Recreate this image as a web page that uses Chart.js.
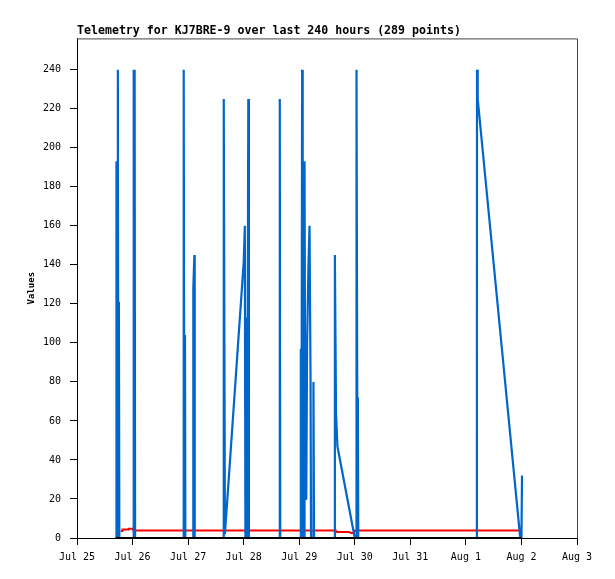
<!DOCTYPE html>
<html>
<head>
<meta charset="utf-8">
<script src="https://cdn.jsdelivr.net/npm/chart.js@4/dist/chart.umd.min.js"></script>
<style>
  body { margin: 0; background: #fff; }
  #wrap { width: 615px; height: 579px; }
</style>
</head>
<body>
<div id="wrap"><canvas id="telemetryChart" width="615" height="579"></canvas></div>
<script>
// hours since Jul 25 00:00
const dayLabels = ['Jul 25', 'Jul 26', 'Jul 27', 'Jul 28', 'Jul 29', 'Jul 30', 'Jul 31', 'Aug 1', 'Aug 2', 'Aug 3'];
const yTicks = [0, 20, 40, 60, 80, 100, 120, 140, 160, 180, 200, 220, 240];

const blueHours = [
  17.0, 17.05, 17.3, 17.65, 17.9, 18.1, 18.3,
  24.45, 24.5, 24.7, 24.9, 25.1,
  46.05, 46.1, 46.4, 46.65, 46.8,
  50.15, 50.25, 50.7, 50.85,
  63.35, 63.4, 63.9, 72.0, 72.5, 72.75, 73.25, 73.5, 74.0, 74.25,
  87.55, 87.6, 87.8,
  96.6, 96.7, 96.95, 97.25, 97.5, 98.2, 98.3, 98.65, 98.85, 99.05, 99.4, 100.0, 100.45, 100.9, 101.1,
  102.0, 102.15, 102.4,
  111.35, 111.4, 111.9, 112.5, 120.0, 120.6, 120.75, 121.2, 121.35, 121.5,
  172.75, 172.8, 173.1, 191.4, 192.0, 192.25
];
const blueValues = [
  0, 193, 0, 240, 0, 121, 0,
  0, 240, 0, 240, 0,
  0, 240, 0, 104, 0,
  0, 128, 145, 0,
  0, 225, 2, 141, 160, 0, 113, 0, 225, 0,
  0, 225, 0,
  0, 97, 0, 240, 0, 0, 193, 20, 60, 20, 100, 140, 160, 80, 0,
  0, 80, 0,
  0, 145, 64, 47, 0, 0, 240, 0, 72, 0,
  0, 240, 225, 1, 0, 32
];

const redHours = [18.9, 19.55, 19.65, 22.1, 22.35, 24.05, 24.3, 111.8, 112.05, 117.45, 118.3, 119.6, 120.05, 191.6];
const redValues = [3.6, 3.6, 4.3, 4.3, 4.8, 4.8, 3.8, 3.8, 3.1, 3.1, 2.6, 2.6, 3.8, 3.8];

const blackHours = [16.7, 192.1];
const blackValues = [0, 0];

function toPoints(hours, values) {
  return hours.map((h, i) => ({ x: h, y: values[i] }));
}

// top and right edges of the plot box
const boxEdges = {
  id: 'boxEdges',
  afterDraw(chart) {
    const { ctx, chartArea: a } = chart;
    ctx.save();
    ctx.strokeStyle = '#444';
    ctx.lineWidth = 1;
    ctx.beginPath();
    ctx.moveTo(a.left, a.top + 0.5);
    ctx.lineTo(a.right + 0.5, a.top + 0.5);
    ctx.lineTo(a.right + 0.5, a.bottom);
    ctx.stroke();
    ctx.restore();
  }
};

const tickFont = { family: '"DejaVu Sans Mono", monospace', size: 10 };

new Chart(document.getElementById('telemetryChart'), {
  type: 'line',
  data: {
    datasets: [
      {
        label: 'Black',
        data: toPoints(blackHours, blackValues),
        borderColor: '#000',
        borderWidth: 2,
        order: 0
      },
      {
        label: 'Blue',
        data: toPoints(blueHours, blueValues),
        borderColor: '#0066cc',
        borderWidth: 2.2,
        order: 1
      },
      {
        label: 'Red',
        data: toPoints(redHours, redValues),
        borderColor: '#ff0000',
        borderWidth: 2,
        order: 2
      }
    ]
  },
  options: {
    responsive: false,
    animation: false,
    devicePixelRatio: 1,
    layout: { padding: { top: 0, right: 38, bottom: 0, left: 0 } },
    elements: {
      point: { radius: 0, hoverRadius: 0 },
      line: { tension: 0, fill: false, borderJoinStyle: 'miter' }
    },
    scales: {
      x: {
        type: 'linear',
        min: 0,
        max: 216,
        afterFit: scale => { scale.height = 41; },
        afterBuildTicks: scale => {
          scale.ticks = dayLabels.map((_, i) => ({ value: i * 24 }));
        },
        ticks: {
          autoSkip: false,
          maxRotation: 0,
          padding: 6,
          color: '#000',
          font: tickFont,
          callback: (value) => dayLabels[Math.round(value / 24)]
        },
        grid: { drawOnChartArea: false, drawTicks: true, tickLength: 7, tickColor: '#000' },
        border: { display: true, color: '#000', width: 1 }
      },
      y: {
        min: 0,
        max: 256,
        afterFit: scale => { scale.width = 77; },
        afterBuildTicks: scale => {
          scale.ticks = yTicks.map(v => ({ value: v }));
        },
        ticks: {
          padding: 9,
          color: '#000',
          font: tickFont
        },
        grid: { drawOnChartArea: false, drawTicks: true, tickLength: 7, tickColor: '#000' },
        border: { display: true, color: '#000', width: 1 },
        title: {
          display: true,
          text: 'Values',
          color: '#000',
          font: { family: '"DejaVu Sans Mono", monospace', size: 9, weight: 'bold' },
          padding: { top: 26, bottom: 0 }
        }
      }
    },
    plugins: {
      legend: { display: false },
      tooltip: { enabled: false },
      title: {
        display: true,
        fullSize: false,
        align: 'start',
        text: 'Telemetry for KJ7BRE-9 over last 240 hours (289 points)',
        color: '#000',
        font: { family: '"DejaVu Sans Mono", monospace', size: 11.6, weight: 'bold' },
        padding: { top: 24.5, bottom: 0 }
      }
    }
  },
  plugins: [boxEdges]
});
</script>
</body>
</html>
